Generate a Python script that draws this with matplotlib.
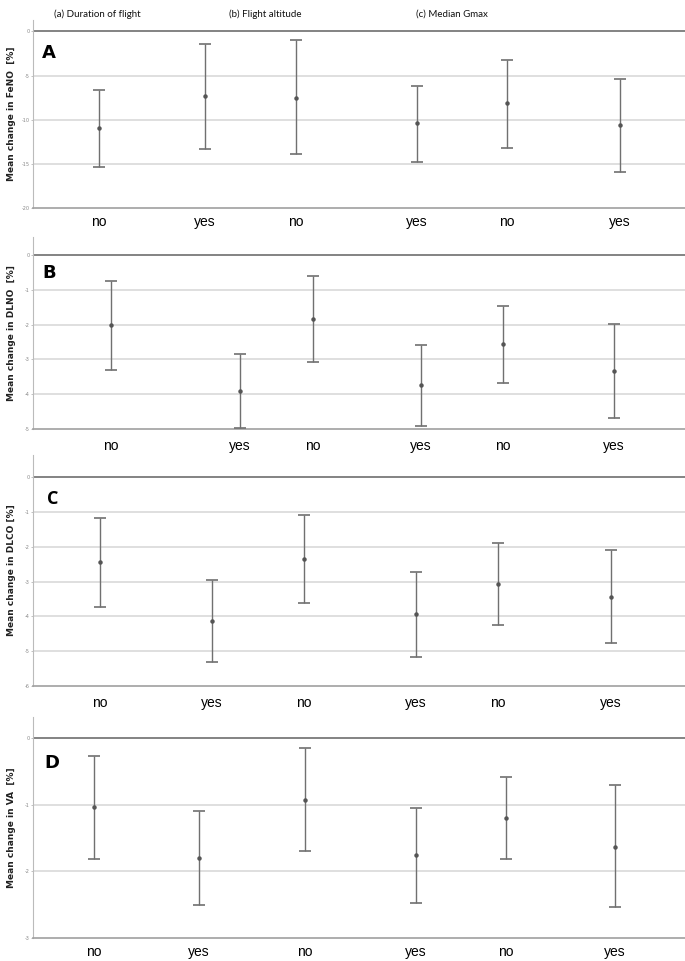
import numpy as np
import matplotlib
matplotlib.use("Agg")
import matplotlib.pyplot as plt

# group labels (one pair per factor)
groups = ["no", "yes", "no", "yes", "no", "yes"]
factors = ["(a) Duration of flight", "(b) Flight altitude", "(c) Median Gmax"]

# mean change and 95% CI (lower, upper)
feno_mean = [-10.9, -7.3, -7.5, -10.4, -8.15, -10.6]
feno_lo = [-15.4, -13.3, -13.9, -14.8, -13.2, -15.9]
feno_hi = [-6.6, -1.4, -1.0, -6.2, -3.2, -5.35]

dlno_mean = [-2.02, -3.90, -1.83, -3.74, -2.56, -3.33]
dlno_lo = [-3.29, -4.98, -3.06, -4.92, -3.68, -4.67]
dlno_hi = [-0.75, -2.83, -0.60, -2.59, -1.45, -1.99]

dlco_mean = [-2.45, -4.14, -2.35, -3.94, -3.07, -3.44]
dlco_lo = [-3.73, -5.31, -3.61, -5.16, -4.24, -4.77]
dlco_hi = [-1.18, -2.95, -1.09, -2.72, -1.88, -2.10]

va_mean = [-1.03, -1.80, -0.92, -1.76, -1.20, -1.63]
va_lo = [-1.82, -2.50, -1.70, -2.47, -1.81, -2.54]
va_hi = [-0.26, -1.09, -0.14, -1.04, -0.58, -0.70]

W, H = 685, 961
fig = plt.figure(figsize=(W / 100, H / 100), dpi=100)

# panel layout in pixels
panels = [
    dict(top=20, bot=208, ymax=1.3, ymin=-20, ticks=[0, -5, -10, -15, -20],
         xs=[99, 205, 296, 417, 507, 620], letter="A", lx=0.014, ly=0.824,
         ylabel="Mean change in FeNO  [%]", m=feno_mean, lo=feno_lo, hi=feno_hi,
         lab_y=222, lfont="DejaVu Sans"),
    dict(top=237, bot=429, ymax=0.52, ymin=-5, ticks=[0, -1, -2, -3, -4, -5],
         xs=[111, 240, 313, 421, 503, 614], letter="B", lx=0.015, ly=0.81,
         ylabel="Mean change in DLNO  [%]", m=dlno_mean, lo=dlno_lo, hi=dlno_hi,
         lab_y=446, lfont="DejaVu Sans"),
    dict(top=455, bot=686, ymax=0.64, ymin=-6, ticks=[0, -1, -2, -3, -4, -5, -6],
         xs=[100, 212, 304, 416, 498, 611], letter="C", lx=0.021, ly=0.81,
         ylabel="Mean change in DLCO [%]", m=dlco_mean, lo=dlco_lo, hi=dlco_hi,
         lab_y=703, lfont="Open Sans"),
    dict(top=717, bot=938, ymax=0.32, ymin=-3, ticks=[0, -1, -2, -3],
         xs=[94, 199, 305, 416, 506, 615], letter="D", lx=0.018, ly=0.79,
         ylabel="Mean change in VA  [%]", m=va_mean, lo=va_lo, hi=va_hi,
         lab_y=952, lfont="DejaVu Sans"),
]

left = 33
for p in panels:
    ax = fig.add_axes([left / W, 1 - p["bot"] / H, (W - left) / W, (p["bot"] - p["top"]) / H])
    ax.set_xlim(left, W)
    ax.set_ylim(p["ymin"], p["ymax"])
    for t in p["ticks"][1:-1]:
        ax.axhline(t, color="#d9d9d9", lw=1.2, zorder=0)
    ax.axhline(0, color="#7a7a7a", lw=1.3, zorder=1)
    m = np.array(p["m"])
    err = [m - np.array(p["lo"]), np.array(p["hi"]) - m]
    ax.errorbar(p["xs"], m, yerr=err, fmt="o", ms=2.2, color="#555555",
                ecolor="#707070", elinewidth=1, capsize=4.5, capthick=1.2, zorder=3)
    ax.set_yticks(p["ticks"])
    ax.set_yticklabels([str(t) for t in p["ticks"]], fontsize=3.5, color="#888888")
    ax.tick_params(axis="y", length=1.5, width=0.5, color="#aaaaaa", pad=1)
    ax.set_xticks([])
    for s in ["top", "right"]:
        ax.spines[s].set_visible(False)
    ax.spines["left"].set_color("#bbbbbb")
    ax.spines["left"].set_linewidth(0.8)
    ax.spines["bottom"].set_color("#a0a0a0")
    ax.spines["bottom"].set_linewidth(1.2)
    ax.text(p["lx"], p["ly"], p["letter"], transform=ax.transAxes, fontsize=13,
            fontweight="bold", family=p["lfont"], va="center")
    fig.text(12 / W, 1 - (p["top"] + p["bot"]) / 2 / H, p["ylabel"], rotation=90,
             fontsize=6.5, fontweight="bold", ha="center", va="center", color="#222222")
    for x, g in zip(p["xs"], groups):
        fig.text(x / W, 1 - p["lab_y"] / H, g, fontsize=10, ha="center", va="center",
                 family="Liberation Sans")

for x, f in zip([97, 265, 452], factors):
    fig.text(x / W, 1 - 14 / H, f, fontsize=7, ha="center", va="center",
             family="Lato", color="#111111")

fig.savefig("out.png", dpi=100, facecolor="white")
